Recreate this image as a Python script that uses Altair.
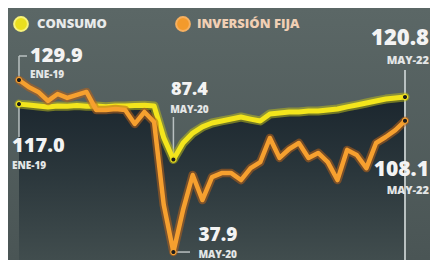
import altair as alt
import pandas as pd

# ---- data ----
mes_abbr = ["ENE", "FEB", "MAR", "ABR", "MAY", "JUN", "JUL", "AGO", "SEP", "OCT", "NOV", "DIC"]
years = ["19", "20", "21", "22"]
months = [f"{m}-{y}" for y in years for m in mes_abbr][:41]

consumo = [117.0, 116.5, 116.0, 115.5, 116.0, 115.8, 116.2, 115.8, 116.0, 115.6,
           116.0, 116.0, 116.2, 116.4, 116.0, 99.0, 87.4, 96.2, 101.5, 104.8,
           106.9, 108.0, 109.0, 110.1, 109.0, 108.0, 111.7, 112.3, 112.8, 112.8,
           113.3, 113.3, 113.9, 114.4, 115.5, 116.5, 117.6, 118.7, 119.7, 120.3,
           120.8]
inversion = [129.9, 126.2, 123.5, 118.7, 122.4, 120.3, 121.9, 123.5, 113.9, 113.9,
             114.4, 113.9, 106.4, 112.8, 107.4, 63.1, 37.9, 60.4, 79.1, 65.7,
             78.0, 80.1, 80.1, 76.4, 82.8, 86.0, 98.9, 88.2, 93.0, 96.2,
             88.2, 90.9, 86.0, 76.4, 92.5, 89.8, 82.8, 96.2, 99.4, 103.1,
             108.1]
series = ["CONSUMO", "INVERSIÓN FIJA"]

YELLOW = "#f3e51c"
ORANGE = "#f6a02f"

df = pd.DataFrame({"i": list(range(len(months))), "mes": months,
                   "consumo": consumo, "inversion": inversion})

W, H = 422, 252
xs = alt.Scale(domain=[-1.14, 42.59], nice=False, zero=False)
ys = alt.Scale(domain=[33.64, 168.4], nice=False, zero=False)

base = alt.Chart(df)

bg = alt.Chart(pd.DataFrame({"a": [0]})).mark_rect(
    color=alt.Gradient(gradient="linear",
                       stops=[alt.GradientStop(color="#5b6766", offset=0),
                              alt.GradientStop(color="#4a5555", offset=1)],
                       x1=0, x2=0, y1=0, y2=1)
).encode(x=alt.value(0), x2=alt.value(W), y=alt.value(0), y2=alt.value(H))

area = base.mark_area(
    color=alt.Gradient(gradient="linear",
                       stops=[alt.GradientStop(color="#1b262e", offset=0),
                              alt.GradientStop(color="#2a363b", offset=0.45),
                              alt.GradientStop(color="#414d4e", offset=1)],
                       x1=0, x2=0, y1=0, y2=1)
).encode(x=alt.X("i:Q", scale=xs, axis=None),
         y=alt.Y("consumo:Q", scale=ys, axis=None),
         y2=alt.datum(33.64))

def line(field, color, glow, w):
    g = base.mark_line(color=glow, strokeWidth=w + 4, opacity=0.55,
                       strokeJoin="round", strokeCap="round").encode(
        x=alt.X("i:Q", scale=xs, axis=None), y=alt.Y(f"{field}:Q", scale=ys, axis=None))
    c = base.mark_line(color=color, strokeWidth=w,
                       strokeJoin="round", strokeCap="round").encode(
        x=alt.X("i:Q", scale=xs, axis=None), y=alt.Y(f"{field}:Q", scale=ys, axis=None))
    return g + c

yl = line("consumo", YELLOW, "#b8b81e", 5)
ol = line("inversion", ORANGE, "#b8621a", 4.5)

RULE = "#b9c1c1"

def vrule(i, v, ypix):
    d = pd.DataFrame({"i": [i], "v": [v]})
    return alt.Chart(d).mark_rule(color=RULE, strokeWidth=1.5).encode(
        x=alt.X("i:Q", scale=xs, axis=None), y=alt.Y("v:Q", scale=ys, axis=None),
        y2=alt.value(ypix))

def hrule(i, v, xpix):
    d = pd.DataFrame({"i": [i], "v": [v]})
    return alt.Chart(d).mark_rule(color=RULE, strokeWidth=1.5).encode(
        x=alt.X("i:Q", scale=xs, axis=None), x2=alt.value(xpix),
        y=alt.Y("v:Q", scale=ys, axis=None))

rules = (
    vrule(0, inversion[0], 48)
    + alt.Chart(pd.DataFrame({"i": [0]})).mark_rule(color=RULE, strokeWidth=1.5).encode(
        x=alt.X("i:Q", scale=xs, axis=None), x2=alt.value(19), y=alt.value(48))
    + vrule(0, consumo[0], 129)
    + vrule(16, consumo[16], 109)
    + hrule(16, inversion[16], 182)
    + alt.Chart(pd.DataFrame({"i": [40]})).mark_rule(color=RULE, strokeWidth=2).encode(
        x=alt.X("i:Q", scale=xs, axis=None), y=alt.value(62), y2=alt.value(H))
)

def dots(idx):
    d = df.iloc[idx]
    a = alt.Chart(d).mark_point(filled=True, size=28, fill="#1c1c1c", stroke=YELLOW,
                                strokeWidth=1.2, opacity=1).encode(
        x=alt.X("i:Q", scale=xs, axis=None), y=alt.Y("consumo:Q", scale=ys, axis=None))
    b = alt.Chart(d).mark_point(filled=True, size=28, fill="#1c1c1c", stroke=ORANGE,
                                strokeWidth=1.2, opacity=1).encode(
        x=alt.X("i:Q", scale=xs, axis=None), y=alt.Y("inversion:Q", scale=ys, axis=None))
    return a + b

pts = dots([0, 16, 40])

FONT = "Open Sans"

def label(i, v, text, size, dx, dy, align="left", color="#f3f3f3", weight=800):
    d = pd.DataFrame({"i": [i], "v": [v], "t": [text]})
    return alt.Chart(d).mark_text(align=align, baseline="alphabetic", dx=dx, dy=dy,
                                  font=FONT, fontWeight=weight, fontSize=size,
                                  color=color).encode(
        x=alt.X("i:Q", scale=xs, axis=None), y=alt.Y("v:Q", scale=ys, axis=None),
        text="t:N")

fmt = lambda v: f"{v:.1f}"
SUB = "#e4e6e6"
labels = (
    label(0, inversion[0], fmt(inversion[0]), 20, 11, -18)
    + label(0, inversion[0], months[0], 10, 11, -2, color=SUB)
    + label(0, consumo[0], fmt(consumo[0]), 20, -7, 48)
    + label(0, consumo[0], months[0], 10, -7, 65, color=SUB)
    + label(16, consumo[16], fmt(consumo[16]), 18, 16, -64, align="center")
    + label(16, consumo[16], months[16], 10, 16, -46, align="center", color=SUB)
    + label(16, inversion[16], fmt(inversion[16]), 19, 25, -11)
    + label(16, inversion[16], months[16], 10, 25, 6, color=SUB)
    + label(40, consumo[40], fmt(consumo[40]), 22, 24, -52, align="right")
    + label(40, consumo[40], months[40], 11, 24, -33, align="right", color=SUB)
    + label(40, inversion[40], fmt(inversion[40]), 21, 24, 55, align="right")
    + label(40, inversion[40], months[40], 11, 24, 73, align="right", color=SUB)
)

one = pd.DataFrame({"a": [0]})
legend = (
    alt.Chart(one).mark_point(filled=True, size=190, fill="#eadf1e", stroke="#f7f27a",
                              strokeWidth=2, opacity=1).encode(x=alt.value(13), y=alt.value(16))
    + alt.Chart(one).mark_text(align="left", baseline="middle", font=FONT, fontWeight=800,
                               fontSize=13, color="#e8eaea", text=series[0]).encode(
        x=alt.value(29), y=alt.value(16))
    + alt.Chart(one).mark_point(filled=True, size=190, fill="#f39a2c", stroke="#f6b060",
                                strokeWidth=2, opacity=1).encode(x=alt.value(175), y=alt.value(16))
    + alt.Chart(one).mark_text(align="left", baseline="middle", font=FONT, fontWeight=800,
                               fontSize=13, color="#f1cfb4", text=series[1]).encode(
        x=alt.value(189), y=alt.value(16))
)

chart = alt.layer(bg, area, rules, yl, ol, pts, labels, legend).properties(
    width=W, height=H,
    autosize=alt.AutoSizeParams(type="none"),
    padding=0,
    background="#525d5c",
).configure_view(stroke=None)

chart.save("out.html", embed_options={"renderer": "svg", "actions": False})
